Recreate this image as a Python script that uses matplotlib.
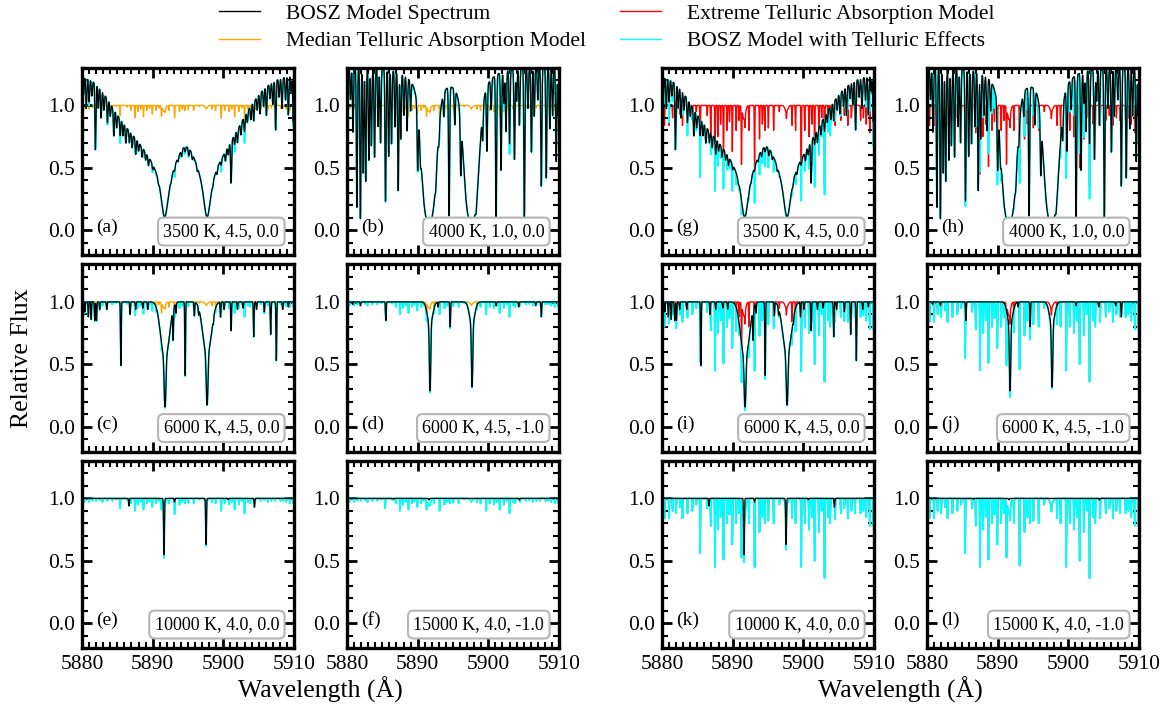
import numpy as np
import matplotlib
matplotlib.use("Agg")
import matplotlib.pyplot as plt
from matplotlib.lines import Line2D
from matplotlib.ticker import MultipleLocator

# ---------------- data ----------------
WAVE_RANGE = (5880.0, 5910.0)
XTICKS = [5880, 5890, 5900, 5910]
YTICKS = [0.0, 0.5, 1.0]

PANEL_LETTERS = [["(a)", "(b)", "(g)", "(h)"],
                 ["(c)", "(d)", "(i)", "(j)"],
                 ["(e)", "(f)", "(k)", "(l)"]]
STAR_LABELS = [["3500 K, 4.5, 0.0", "4000 K, 1.0, 0.0"],
               ["6000 K, 4.5, 0.0", "6000 K, 4.5, -1.0"],
               ["10000 K, 4.0, 0.0", "15000 K, 4.0, -1.0"]]

# telluric water-vapour lines (wavelength, depth)
TELL_WAVE = [5880.35, 5881.0, 5881.5, 5882.0, 5882.55, 5882.9, 5883.6, 5884.3, 5884.85, 5885.4,
             5886.4, 5886.9, 5887.5, 5887.9, 5888.3, 5888.7, 5889.2, 5889.55, 5889.95, 5890.5,
             5890.9, 5891.25, 5891.75, 5892.3, 5893.1, 5893.8, 5894.2, 5894.55, 5895.05, 5895.8,
             5896.6, 5897.6, 5898.4, 5898.9, 5899.7, 5900.2, 5900.8, 5901.2, 5901.6, 5902.2,
             5902.6, 5903.0, 5903.5, 5903.8, 5904.5, 5905.3, 5905.8, 5906.3, 5906.8, 5907.3,
             5908.1, 5908.5, 5908.9, 5909.4, 5909.9]
TELL_EXTREME = [0.16, 0.16, 0.10, 0.12, 0.07, 0.16, 0.12, 0.10, 0.05, 0.44,
                0.08, 0.22, 0.55, 0.25, 0.15, 0.49, 0.20, 0.13, 0.37, 0.20,
                0.12, 0.46, 0.10, 0.20, 0.54, 0.27, 0.15, 0.20, 0.18, 0.20,
                0.05, 0.06, 0.16, 0.20, 0.55, 0.20, 0.25, 0.15, 0.50, 0.27,
                0.10, 0.64, 0.15, 0.20, 0.16, 0.12, 0.08, 0.16, 0.10, 0.12,
                0.12, 0.10, 0.15, 0.22, 0.22]
TELL_MEDIAN = [0.03, 0.03, 0.02, 0.02, 0.015, 0.03, 0.02, 0.02, 0.01, 0.08,
               0.015, 0.04, 0.10, 0.05, 0.03, 0.09, 0.04, 0.025, 0.07, 0.04,
               0.02, 0.08, 0.02, 0.04, 0.10, 0.05, 0.03, 0.04, 0.035, 0.04,
               0.01, 0.01, 0.03, 0.04, 0.10, 0.04, 0.05, 0.03, 0.09, 0.05,
               0.02, 0.12, 0.03, 0.04, 0.03, 0.02, 0.015, 0.03, 0.02, 0.02,
               0.02, 0.02, 0.03, 0.04, 0.04]
# broad Na D component in the telluric models (wavelength, tau, sigma)
TELL_NA_EXTREME = [(5891.6, 0.12, 0.2), (5897.6, 0.05, 0.2)]
TELL_NA_MEDIAN = [(5891.6, 0.05, 0.2), (5897.6, 0.02, 0.2)]

# stellar spectra: continuum, broad components (kind, centre, tau, width), narrow lines (centre, depth)
S3500_CONT = 1.25
S3500_BROAD = [("L", 5891.7, 1.6, 0.45), ("G", 5891.7, 0.7, 4.0),
               ("L", 5897.7, 1.6, 0.45), ("G", 5897.7, 0.7, 4.0),
               ("G", 5894.7, -0.5, 1.5), ("G", 5885.5, 0.12, 2.0)]
S3500_NARROW = [(5880.2, .12), (5880.6, .2), (5881.0, .15), (5881.4, .1), (5881.9, .45), (5882.3, .15),
                (5882.7, .2), (5883.1, .12), (5883.6, .18), (5884.0, .1), (5884.5, .22), (5884.9, .12),
                (5885.4, .15), (5885.8, .12), (5886.2, .16), (5886.7, .12), (5887.1, .14), (5887.6, .17),
                (5888.0, .1), (5888.5, .12), (5889.0, .1), (5889.4, .12), (5890.0, .08), (5890.8, .06),
                (5892.6, .06), (5893.1, .07), (5893.6, .06), (5894.1, .08), (5894.6, .06), (5895.1, .09),
                (5895.6, .07), (5896.3, .07), (5898.5, .07), (5899.1, .09), (5899.7, .08), (5900.3, .12),
                (5900.7, .1), (5901.1, .47), (5901.6, .1), (5902.0, .13), (5902.5, .11), (5903.0, .13),
                (5903.4, .09), (5903.9, .11), (5904.3, .15), (5904.8, .1), (5905.2, .15), (5905.7, .12),
                (5906.1, .2), (5906.6, .1), (5907.0, .15), (5907.4, .33), (5907.9, .12), (5908.3, .2),
                (5908.8, .15), (5909.2, .25), (5909.6, .1), (5909.9, .3)]

S4000_CONT = 1.32
S4000_BROAD = [("G", 5891.6, 2.4, 0.65), ("L", 5891.6, 0.7, 1.0),
               ("G", 5897.6, 2.4, 0.65), ("L", 5897.6, 0.7, 1.0)]
S4000_NARROW = [(5880.5, .2), (5880.85, .4), (5881.4, .86), (5881.9, .93), (5882.3, .65), (5882.65, .7),
                (5883.1, .57), (5883.45, .48), (5883.9, .55), (5884.4, .36), (5884.75, .46), (5885.45, .82),
                (5885.9, .54), (5886.3, .46), (5886.8, .35), (5887.25, .75), (5887.6, .42), (5888.05, .26),
                (5888.5, .35), (5889.0, .2), (5890.0, .5), (5890.4, .2), (5892.55, .2), (5893.0, .15),
                (5893.7, .17), (5894.45, .9), (5895.25, .25), (5896.1, .5), (5898.25, .3), (5899.2, .25),
                (5899.8, .45), (5900.4, .2), (5901.1, .95), (5901.8, .62), (5902.2, .2), (5902.5, .38),
                (5903.0, .46), (5903.7, .56), (5904.0, .2), (5904.4, .35), (5905.1, .92), (5905.6, .25),
                (5906.1, .52), (5906.5, .3), (5907.0, .2), (5907.5, .73), (5908.2, .68), (5908.7, .38),
                (5909.1, .3), (5909.6, .58), (5909.9, .3)]

S6000A_CONT = 1.0
S6000A_BROAD = [("G", 5891.75, 1.25, 0.1), ("G", 5891.75, 0.6, 0.55),
                ("G", 5897.7, 1.2, 0.1), ("G", 5897.7, 0.55, 0.55)]
S6000A_NARROW = [(5880.4, .08), (5880.9, .12), (5881.3, .14), (5881.8, .15), (5882.05, .15), (5882.5, .06),
                 (5883.5, .06), (5885.5, .51), (5886.8, .1), (5887.6, .06), (5888.6, .05), (5889.3, .06),
                 (5892.9, .26), (5893.3, .08), (5894.6, .59), (5895.9, .11), (5896.5, .06), (5898.6, .05),
                 (5899.6, .12), (5900.1, .06), (5901.1, .23), (5902.0, .06), (5902.8, .05), (5904.3, .28),
                 (5904.7, .06), (5905.8, .08), (5906.7, .26), (5907.5, .47), (5908.4, .06), (5909.2, .04)]

S6000B_CONT = 1.0
S6000B_BROAD = [("G", 5891.75, 1.05, 0.08), ("G", 5891.75, 0.2, 0.35),
                ("G", 5897.7, 0.95, 0.08), ("G", 5897.7, 0.2, 0.35)]
S6000B_NARROW = [(5880.8, .02), (5881.9, .03), (5885.5, .15), (5892.9, .04), (5894.6, .2),
                 (5901.1, .03), (5904.3, .04), (5906.7, .03), (5907.5, .12)]

S10000_CONT = 1.0
S10000_BROAD = [("G", 5891.6, 0.6, 0.05), ("G", 5897.55, 0.46, 0.05)]
S10000_NARROW = [(5886.65, .06), (5893.1, .03), (5900.7, .01), (5904.4, .07)]

S15000_CONT = 1.0
S15000_BROAD = [("G", 5891.6, 0.012, 0.06)]
S15000_NARROW = [(5886.6, .006), (5904.4, .012)]

STARS = [[(S3500_CONT, S3500_BROAD, S3500_NARROW, 0.07), (S4000_CONT, S4000_BROAD, S4000_NARROW, 0.075)],
         [(S6000A_CONT, S6000A_BROAD, S6000A_NARROW, 0.05), (S6000B_CONT, S6000B_BROAD, S6000B_NARROW, 0.05)],
         [(S10000_CONT, S10000_BROAD, S10000_NARROW, 0.05), (S15000_CONT, S15000_BROAD, S15000_NARROW, 0.05)]]

# ---------------- model construction ----------------
wave = np.arange(5879.0, 5911.0, 0.025)


def synth(cont, broad, narrow, sigma):
    tau = np.zeros_like(wave)
    for kind, c, t, w in broad:
        if kind == "G":
            tau += t * np.exp(-0.5 * ((wave - c) / w) ** 2)
        else:
            tau += t / (1.0 + ((wave - c) / w) ** 2)
    f = cont * np.exp(-tau)
    for c, d in narrow:
        f *= 1.0 - d * np.exp(-0.5 * ((wave - c) / sigma) ** 2)
    return f


def telluric(depths, na):
    f = np.ones_like(wave)
    for c, d in zip(TELL_WAVE, depths):
        f *= 1.0 - d * np.exp(-0.5 * ((wave - c) / 0.035) ** 2)
    for c, t, s in na:
        f *= np.exp(-t * np.exp(-0.5 * ((wave - c) / s) ** 2))
    return f


tell_med = telluric(TELL_MEDIAN, TELL_NA_MEDIAN)
tell_ext = telluric(TELL_EXTREME, TELL_NA_EXTREME)

# ---------------- figure ----------------
plt.rcParams["font.family"] = ["Liberation Serif", "DejaVu Serif"]
plt.rcParams["mathtext.fontset"] = "stix"

W, H = 1167, 715
fig = plt.figure(figsize=(W / 100, H / 100), dpi=100)

col_left = [82, 347, 662, 927]
col_w = 212
row_top = [68, 264.5, 461]
row_h = 187

BLACK, ORANGE, RED, CYAN = "#000000", "#FFA500", "#FF0000", "#00FFFF"

for r in range(3):
    for c in range(4):
        x0 = col_left[c] / W
        y0 = 1 - (row_top[r] + row_h) / H
        ax = fig.add_axes([x0, y0, col_w / W, row_h / H])
        star = synth(*STARS[r][c % 2])
        if c < 2:
            tmodel, tcol = tell_med, ORANGE
        else:
            tmodel, tcol = tell_ext, RED
        ax.plot(wave, tmodel, color=tcol, lw=1.0, zorder=1)
        ax.plot(wave, star * tmodel, color=CYAN, lw=1.3, zorder=2)
        ax.plot(wave, star, color=BLACK, lw=0.9, zorder=3)

        ax.set_xlim(*WAVE_RANGE)
        ax.set_ylim(-0.2, 1.3)
        ax.set_xticks(XTICKS)
        ax.set_yticks(YTICKS)
        ax.xaxis.set_minor_locator(MultipleLocator(1))
        ax.yaxis.set_minor_locator(MultipleLocator(0.1))
        ax.tick_params(which="both", direction="in", top=True, right=True, labelsize=15.5)
        ax.tick_params(which="major", length=7, width=2.0, pad=5)
        ax.tick_params(which="minor", length=4, width=1.5)
        if r < 2:
            ax.tick_params(labelbottom=False)
        for sp in ax.spines.values():
            sp.set_linewidth(2.4)

        ax.text(0.065, 0.10, PANEL_LETTERS[r][c], transform=ax.transAxes,
                fontsize=14, ha="left", va="bottom", zorder=5)
        ax.text(0.93, 0.08, STAR_LABELS[r][c % 2], transform=ax.transAxes,
                fontsize=13, ha="right", va="bottom", zorder=5,
                bbox=dict(boxstyle="round,pad=0.3", fc="white", ec="#b5b5b5", lw=1.5))

handles = [Line2D([], [], color=BLACK, lw=1.0), Line2D([], [], color=ORANGE, lw=1.0),
           Line2D([], [], color=RED, lw=1.0), Line2D([], [], color=CYAN, lw=1.0)]
labels = ["BOSZ Model Spectrum", "Median Telluric Absorption Model",
          "Extreme Telluric Absorption Model", "BOSZ Model with Telluric Effects"]
fig.legend(handles, labels, ncol=2, loc="upper center", bbox_to_anchor=(0.52, 1.022),
           frameon=False, fontsize=15.5, handlelength=1.9, handletextpad=1.2,
           columnspacing=1.6, labelspacing=0.35)

fig.text(0.019, 0.499, "Relative Flux", rotation=90, fontsize=18.5, ha="center", va="center")
fig.text(320 / W, 1 - 690 / H, "Wavelength (Å)", fontsize=18.5, ha="center", va="center")
fig.text(900 / W, 1 - 690 / H, "Wavelength (Å)", fontsize=18.5, ha="center", va="center")

fig.savefig("out.png", dpi=100)
